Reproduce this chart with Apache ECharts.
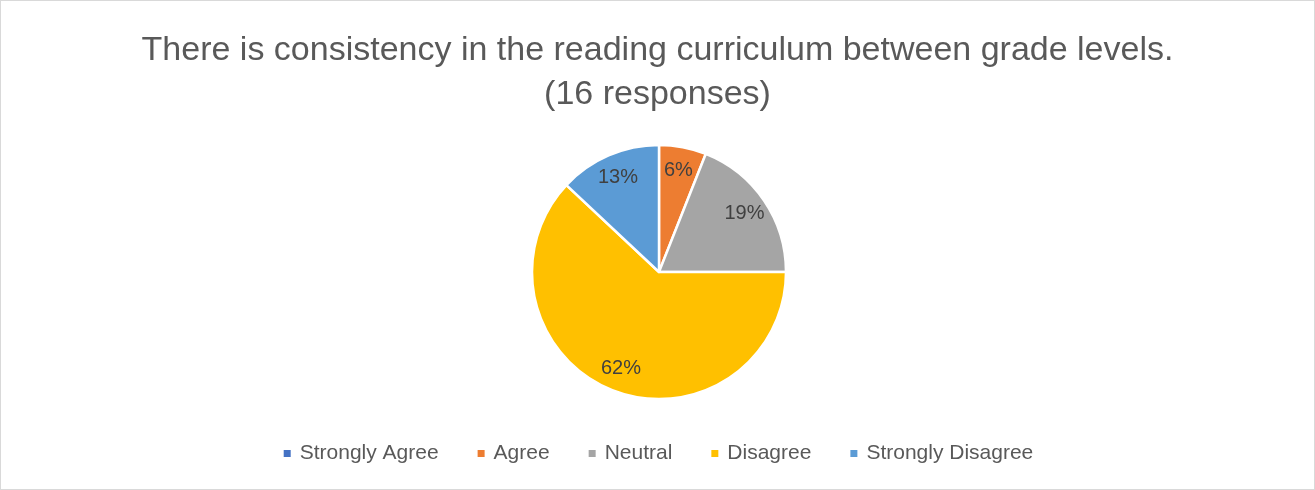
<!DOCTYPE html>
<html>
<head>
<meta charset="utf-8">
<script src="https://cdn.jsdelivr.net/npm/echarts@6/dist/echarts.min.js"></script>
<style>
  html, body { margin: 0; padding: 0; background: #fff; }
  #chart { width: 1313px; height: 488px; border: 1px solid #d9d9d9; }
</style>
</head>
<body>
<div id="chart"></div>
<script>
// Survey responses, shown as percentages of 16 respondents
const categories = ['Strongly Agree', 'Agree', 'Neutral', 'Disagree', 'Strongly Disagree'];
const percents = [0, 6, 19, 62, 13];
const colors = ['#4472C4', '#ED7D31', '#A5A5A5', '#FFC000', '#5B9BD5'];
const titleLines = ['There is consistency in the reading curriculum between grade levels.', '(16 responses)'];

const FONT = '"Liberation Sans", Arial, sans-serif';
const chart = echarts.init(document.getElementById('chart'));

const center = [658, 271];
const radius = 127;

chart.setOption({
  animation: false,
  color: colors,
  title: {
    text: titleLines.join('\n'),
    left: 'center',
    top: 23,
    textStyle: {
      fontFamily: FONT,
      fontSize: 34,
      fontWeight: 'normal',
      color: '#595959',
      lineHeight: 44
    }
  },
  legend: {
    bottom: 20,
    left: 'center',
    icon: 'rect',
    itemWidth: 9,
    itemHeight: 9,
    itemGap: 37,
    textStyle: { fontFamily: FONT, fontSize: 21, color: '#595959', padding: [0, 0, 0, 3] },
    data: categories
  },
  series: [
    {
      // the slices
      type: 'pie',
      center: center,
      radius: radius,
      startAngle: 90,
      clockwise: true,
      silent: true,
      label: { show: false },
      labelLine: { show: false },
      itemStyle: { borderColor: '#fff', borderWidth: 2.5 },
      data: categories.map((name, i) => ({ name: name, value: percents[i] }))
    },
    {
      // transparent ring carrying the percentage labels near the rim
      type: 'pie',
      center: center,
      radius: [radius * 0.58, radius],
      startAngle: 90,
      clockwise: true,
      silent: true,
      itemStyle: { color: 'rgba(0,0,0,0)', borderWidth: 0 },
      label: {
        show: true,
        position: 'inside',
        formatter: p => p.value > 0 ? p.value + '%' : '',
        fontFamily: FONT,
        fontSize: 20,
        color: '#404040'
      },
      labelLine: { show: false },
      data: percents.map(v => ({ value: v }))
    }
  ]
});
</script>
</body>
</html>
